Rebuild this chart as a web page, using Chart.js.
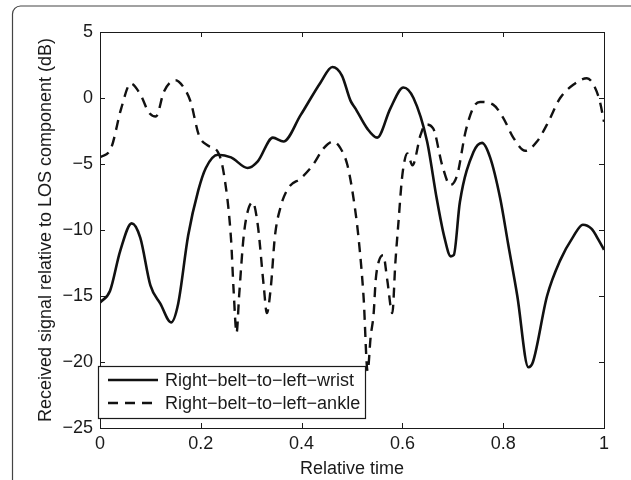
<!DOCTYPE html>
<html>
<head>
<meta charset="utf-8">
<script src="https://cdn.jsdelivr.net/npm/chart.js@4.4.1/dist/chart.umd.min.js"></script>
<style>
  html, body { margin: 0; padding: 0; background: #fff; }
  canvas { display: block; }
</style>
</head>
<body>
<canvas id="c" width="631" height="480"></canvas>
<script>
// ---- data ----
const wristLabel = "Right\u2212belt\u2212to\u2212left\u2212wrist";
const ankleLabel = "Right\u2212belt\u2212to\u2212left\u2212ankle";

const tWrist = [0.0, 0.02, 0.04, 0.063, 0.08, 0.1, 0.12, 0.141, 0.155, 0.175, 0.195, 0.21, 0.234, 0.26, 0.293, 0.313, 0.343, 0.364, 0.398, 0.438, 0.461, 0.48, 0.497, 0.507, 0.53, 0.55, 0.576, 0.602, 0.622, 0.649, 0.668, 0.683, 0.696, 0.702, 0.714, 0.741, 0.758, 0.774, 0.794, 0.81, 0.828, 0.85, 0.859, 0.887, 0.913, 0.939, 0.958, 0.975, 0.99, 1.0];
const vWrist = [-15.5, -14.6, -11.6, -9.5, -10.6, -14.2, -15.6, -17.0, -15.6, -10.4, -7.0, -5.3, -4.3, -4.5, -5.3, -4.8, -3.0, -3.3, -1.3, 1.2, 2.35, 1.7, -0.2, -0.8, -2.3, -3.0, -0.8, 0.8, 0.0, -3.3, -7.6, -10.5, -12.0, -11.9, -7.9, -4.1, -3.4, -4.5, -7.6, -11.1, -15.0, -20.4, -20.0, -15.0, -12.3, -10.5, -9.6, -9.9, -10.8, -11.5];

const tAnkle = [0.0, 0.022, 0.042, 0.061, 0.081, 0.097, 0.111, 0.127, 0.15, 0.166, 0.18, 0.196, 0.214, 0.234, 0.246, 0.26, 0.265, 0.271, 0.276, 0.285, 0.293, 0.303, 0.313, 0.325, 0.331, 0.339, 0.347, 0.358, 0.374, 0.398, 0.422, 0.444, 0.463, 0.477, 0.491, 0.503, 0.513, 0.523, 0.531, 0.537, 0.543, 0.547, 0.553, 0.562, 0.57, 0.58, 0.586, 0.592, 0.6, 0.61, 0.62, 0.636, 0.646, 0.661, 0.679, 0.695, 0.709, 0.725, 0.741, 0.754, 0.78, 0.8, 0.82, 0.844, 0.867, 0.887, 0.913, 0.939, 0.966, 0.982, 0.992, 1.0];
const vAnkle = [-4.5, -3.8, -0.8, 1.1, 0.2, -1.1, -1.4, 0.5, 1.35, 0.8, -0.3, -2.8, -3.6, -4.1, -5.8, -10.7, -14.5, -17.8, -15.0, -10.5, -8.6, -7.9, -9.6, -14.3, -16.3, -14.3, -10.5, -8.3, -6.8, -6.1, -5.1, -3.8, -3.3, -3.8, -5.1, -7.6, -10.6, -15.1, -20.7, -18.1, -16.3, -13.8, -12.4, -11.9, -13.8, -16.3, -12.5, -9.5, -5.8, -4.2, -5.1, -2.8, -2.0, -2.3, -5.1, -6.6, -5.8, -2.6, -0.7, -0.3, -0.5, -1.5, -3.0, -4.0, -3.3, -2.0, 0.0, 1.0, 1.5, 0.8, -0.3, -1.8];

const xTickValues = [0, 0.2, 0.4, 0.6, 0.8, 1];
const yTickValues = [-25, -20, -15, -10, -5, 0, 5];
const xTitle = "Relative time";
const yTitle = "Received signal relative to LOS component (dB)";

// ---- build ----
const toPts = (ts, vs) => ts.map((t, i) => ({ x: t, y: vs[i] }));
const FONT = "'Liberation Sans', Arial, Helvetica, sans-serif";
const INK = '#1a1a1a';
const FS = 18;

const framePlugin = {
  id: 'frame',
  beforeDraw(chart) {
    const ctx = chart.ctx;
    ctx.save();
    ctx.fillStyle = '#fff';
    ctx.fillRect(0, 0, chart.width, chart.height);
    ctx.strokeStyle = '#444';
    ctx.lineWidth = 1.2;
    ctx.beginPath();
    ctx.moveTo(12.5, chart.height + 2);
    ctx.lineTo(12.5, 14);
    ctx.arcTo(12.5, 6, 20.5, 6, 8);
    ctx.lineTo(chart.width + 2, 6);
    ctx.stroke();
    ctx.restore();
  }
};

const boxPlugin = {
  id: 'box',
  afterDatasetsDraw(chart) {
    const { ctx, chartArea: { left, top, right, bottom }, scales: { x, y } } = chart;
    ctx.save();
    ctx.strokeStyle = INK;
    ctx.lineWidth = 1;
    ctx.strokeRect(left + 0.5, top + 0.5, right - left, bottom - top);
    const L = 5;
    ctx.beginPath();
    xTickValues.forEach(v => {
      const px = Math.round(x.getPixelForValue(v)) + 0.5;
      ctx.moveTo(px, bottom); ctx.lineTo(px, bottom - L);
      ctx.moveTo(px, top); ctx.lineTo(px, top + L);
    });
    yTickValues.forEach(v => {
      const py = Math.round(y.getPixelForValue(v)) + 0.5;
      ctx.moveTo(left, py); ctx.lineTo(left + L, py);
      ctx.moveTo(right, py); ctx.lineTo(right - L, py);
    });
    ctx.stroke();

    // legend box (inside lower-left of plot)
    const bx = left - 2, by = bottom - 62, bw = 267, bh = 52;
    ctx.fillStyle = '#fff';
    ctx.fillRect(bx, by, bw, bh);
    ctx.strokeStyle = INK;
    ctx.lineWidth = 1.2;
    ctx.strokeRect(bx + 0.5, by + 0.5, bw, bh);
    const ds = chart.data.datasets;
    ctx.font = FS + 'px ' + FONT;
    ctx.textBaseline = 'middle';
    ctx.textAlign = 'left';
    ds.forEach((d, i) => {
      const cy = by + 14 + i * 23;
      ctx.strokeStyle = d.borderColor;
      ctx.lineWidth = d.borderWidth;
      ctx.setLineDash(d.borderDash || []);
      ctx.beginPath();
      ctx.moveTo(bx + 10, cy);
      ctx.lineTo(bx + 60, cy);
      ctx.stroke();
      ctx.setLineDash([]);
      ctx.fillStyle = INK;
      ctx.fillText(d.label, bx + 67, cy + 1);
    });
    ctx.restore();
  }
};

new Chart(document.getElementById('c'), {
  type: 'line',
  data: {
    datasets: [
      { label: wristLabel, data: toPts(tWrist, vWrist), borderColor: '#111', borderWidth: 2.6,
        pointRadius: 0, cubicInterpolationMode: 'monotone', fill: false },
      { label: ankleLabel, data: toPts(tAnkle, vAnkle), borderColor: '#111', borderWidth: 2.4,
        borderDash: [10, 7], pointRadius: 0, cubicInterpolationMode: 'monotone', fill: false }
    ]
  },
  options: {
    responsive: false,
    animation: false,
    events: [],
    layout: { padding: { top: 32, right: 27, left: 0, bottom: 0 } },
    plugins: { legend: { display: false }, tooltip: { enabled: false } },
    scales: {
      x: {
        type: 'linear', min: 0, max: 1,
        afterBuildTicks: s => { s.ticks = xTickValues.map(v => ({ value: v })); },
        afterFit: s => { s.height = 52; },
        grid: { display: false, drawTicks: false },
        border: { display: false },
        ticks: { padding: 5, color: INK, font: { family: FONT, size: FS }, maxRotation: 0,
          callback: v => String(Number(v.toFixed(1))) },
        title: { display: true, text: xTitle, color: INK, font: { family: FONT, size: FS },
          padding: { top: 0, bottom: 0 } }
      },
      y: {
        type: 'linear', min: -25, max: 5,
        afterBuildTicks: s => { s.ticks = yTickValues.map(v => ({ value: v })); },
        afterFit: s => { s.width = 100; },
        grid: { display: false, drawTicks: false },
        border: { display: false },
        ticks: { padding: 7, color: INK, font: { family: FONT, size: FS },
          callback: v => String(v).replace('-', '\u2212') },
        title: { display: true, text: yTitle, color: INK, font: { family: FONT, size: FS },
          padding: { top: 35, bottom: 0 } }
      }
    }
  },
  plugins: [framePlugin, boxPlugin]
});
</script>
</body>
</html>
